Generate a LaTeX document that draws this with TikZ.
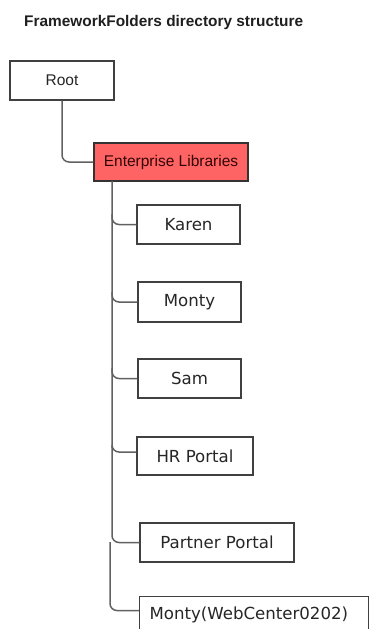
\documentclass[tikz,border=0pt]{standalone}
\usepackage{fontspec}
\setmainfont{Liberation Sans}
\newfontfamily\dvfont{DejaVu Sans}
\begin{document}
\begin{tikzpicture}[x=1pt,y=-1pt,
  box/.style={draw=black!75,line width=1.1pt,fill=white,inner sep=0pt,text=black!85},
  arialtxt/.style={font=\fontsize{15.5}{18}\selectfont},
  dvtxt/.style={font=\dvfont\fontsize{16.6}{19}\selectfont},
  link/.style={draw=black!62,line width=1.5pt,rounded corners=7pt}]
\useasboundingbox (0,0) rectangle (370,629);
\clip (-1,-1) rectangle (371,629);
\node[anchor=base west,inner sep=0pt,font=\bfseries\fontsize{15.4}{18}\selectfont,text=black!88] (title) at (24,26) {FrameworkFolders directory structure};
\node[box,arialtxt,minimum width=104pt,minimum height=39pt] (root) at (62,80.5) {Root};
\node[box,arialtxt,fill={rgb,255:red,255;green,100;blue,100},draw=black!80,text={rgb,255:red,50;green,5;blue,5},minimum width=154pt,minimum height=38pt] (el) at (171,162) {Enterprise Libraries};
\node[box,dvtxt,minimum width=103pt,minimum height=39pt] (karen) at (188.5,224.5) {Karen};
\node[box,dvtxt,minimum width=103pt,minimum height=40pt] (monty) at (189.5,302) {Monty};
\node[box,dvtxt,minimum width=103pt,minimum height=39pt] (sam) at (189.5,378.5) {Sam};
\node[box,dvtxt,minimum width=116pt,minimum height=38pt] (hr) at (195,456) {HR Portal};
\node[box,dvtxt,minimum width=154pt,minimum height=39pt] (pp) at (217,542.5) {Partner Portal};
\node[box,dvtxt,anchor=north west,minimum height=36pt,text width=209pt,align=left,inner xsep=10pt] (mwc) at (139,596) {Monty(WebCenter0202)};
% trunk coordinates
\coordinate (rootbot) at (root.south);
\coordinate (eltop) at (112,181);
\coordinate (tk) at (112,214);
\coordinate (tm) at (112,292);
\coordinate (ts) at (112,368);
\coordinate (th) at (112,448);
\coordinate (t2) at (110,542);
% connectors
\draw[link] (rootbot) |- (el.west);
\draw[link] (eltop) |- (pp.west);
\draw[link] (tk) |- (karen.west);
\draw[link] (tm) |- (monty.west);
\draw[link] (ts) |- (sam.west);
\draw[link] (th) |- ([yshift=4pt]hr.west);
\draw[link] (t2) |- ([yshift=4pt]mwc.west);
\end{tikzpicture}
\end{document}
